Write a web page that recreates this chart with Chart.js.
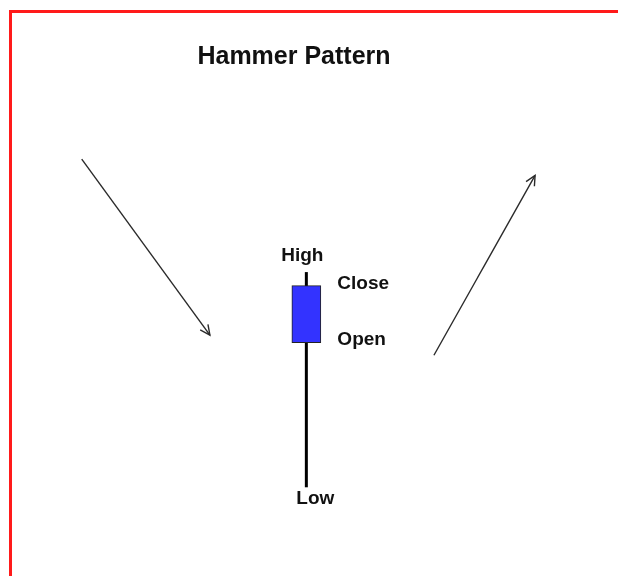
<!DOCTYPE html>
<html>
<head>
<meta charset="utf-8">
<script src="https://cdn.jsdelivr.net/npm/chart.js@4.4.1/dist/chart.umd.min.js"></script>
<style>
  html, body { margin: 0; padding: 0; background: #fff; overflow: hidden; }
  #wrap { position: relative; width: 618px; height: 576px; }
  #frame { position: absolute; left: 9px; top: 10px; width: 700px; height: 700px; border: 3px solid #ff1a1a; box-sizing: border-box; pointer-events: none; }
  canvas { position: absolute; left: 0; top: 0; }
</style>
</head>
<body>
<div id="wrap">
  <canvas id="c" width="618" height="576"></canvas>
  <div id="frame"></div>
</div>
<script>
// ---- data ----
const titleText = "Hammer Pattern";
const candleX = 10.42;            // time position of the hammer candle
const candleHigh = 60.3;
const candleClose = 57.6;
const candleOpen = 46.3;
const candleLow = 17.6;
const candleLabels = ["High", "Close", "Open", "Low"];
const downTrendX = [2.78, 7.14];
const downTrendY = [82.7, 47.8];
const upTrendX = [14.76, 18.2];
const upTrendY = [43.8, 79.5];

const toPts = (xs, ys) => xs.map((x, i) => ({ x: x, y: ys[i] }));

const arrowPlugin = {
  id: 'arrowsAndLabels',
  afterDatasetsDraw(chart) {
    const ctx = chart.ctx;
    // arrowheads on trend lines
    ['down', 'up'].forEach(id => {
      const idx = chart.data.datasets.findIndex(d => d.id === id);
      const pts = chart.getDatasetMeta(idx).data;
      const a = pts[pts.length - 2], b = pts[pts.length - 1];
      const ang = Math.atan2(b.y - a.y, b.x - a.x);
      const len = 11, spread = 0.45;
      ctx.save();
      ctx.strokeStyle = '#2a2a2a';
      ctx.lineWidth = 1.4;
      ctx.beginPath();
      ctx.moveTo(b.x - len * Math.cos(ang - spread), b.y - len * Math.sin(ang - spread));
      ctx.lineTo(b.x, b.y);
      ctx.lineTo(b.x - len * Math.cos(ang + spread), b.y - len * Math.sin(ang + spread));
      ctx.stroke();
      ctx.restore();
    });
    // candle labels
    const xs = chart.scales.x, ys = chart.scales.y;
    const cx = xs.getPixelForValue(candleX);
    ctx.save();
    ctx.fillStyle = '#111';
    ctx.font = 'bold 19px "Liberation Sans", Arial, sans-serif';
    ctx.textBaseline = 'middle';
    ctx.textAlign = 'center';
    ctx.fillText(candleLabels[0], cx - 4, ys.getPixelForValue(candleHigh) - 16);
    ctx.fillText(candleLabels[3], cx + 9, ys.getPixelForValue(candleLow) + 11);
    ctx.textAlign = 'left';
    ctx.fillText(candleLabels[1], cx + 31, ys.getPixelForValue(candleClose) - 2);
    ctx.fillText(candleLabels[2], cx + 31, ys.getPixelForValue(candleOpen) - 3);
    ctx.restore();
  }
};

new Chart(document.getElementById('c'), {
  type: 'bar',
  data: {
    datasets: [
      {
        id: 'wick', type: 'line',
        data: [{ x: candleX, y: candleLow }, { x: candleX, y: candleHigh }],
        borderColor: '#000', borderWidth: 3, pointRadius: 0, order: 2
      },
      {
        id: 'body', type: 'bar',
        data: [{ x: candleX, y: [candleOpen, candleClose] }],
        backgroundColor: '#3333ff', borderColor: '#222', borderWidth: 1,
        borderSkipped: false, barThickness: 29, order: 1
      },
      {
        id: 'down', type: 'line', data: toPts(downTrendX, downTrendY),
        borderColor: '#2a2a2a', borderWidth: 1.4, pointRadius: 0
      },
      {
        id: 'up', type: 'line', data: toPts(upTrendX, upTrendY),
        borderColor: '#2a2a2a', borderWidth: 1.4, pointRadius: 0
      }
    ]
  },
  options: {
    responsive: false,
    animation: false,
    devicePixelRatio: 1,
    layout: { padding: { left: 0, right: 30, top: 0, bottom: 0 } },
    scales: {
      x: { type: 'linear', min: 0, max: 20, offset: false, display: false },
      y: { type: 'linear', min: 0, max: 100, display: false }
    },
    plugins: {
      legend: { display: false },
      tooltip: { enabled: false },
      title: {
        display: true, text: titleText, color: '#111',
        font: { family: '"Liberation Sans", Arial, sans-serif', size: 25, weight: 'bold' },
        padding: { top: 42, bottom: 0 }
      }
    }
  },
  plugins: [arrowPlugin]
});
</script>
</body>
</html>
